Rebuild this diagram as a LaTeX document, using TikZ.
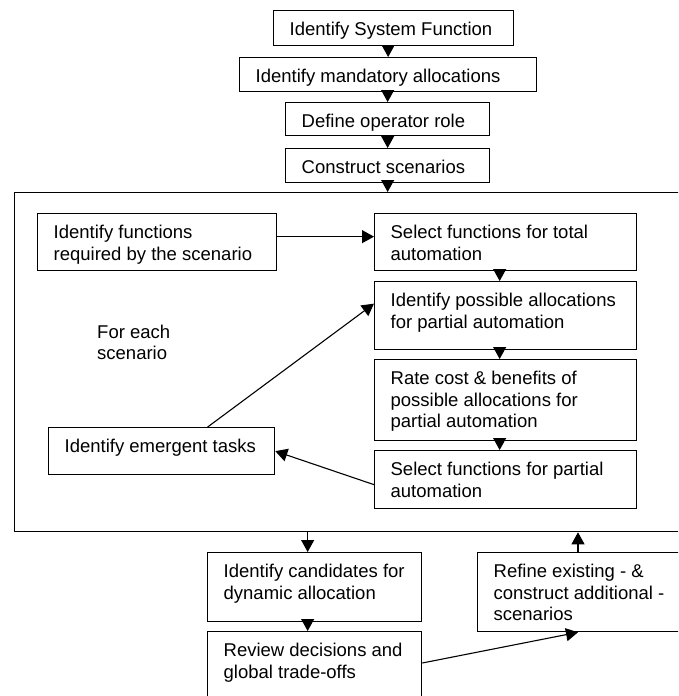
\documentclass[tikz,border=0pt]{standalone}
\usepackage{fontspec}
\setmainfont{Liberation Sans}
\usetikzlibrary{arrows.meta}
\newcommand\diagfont{\fontsize{18.5}{21.5}\selectfont}
% fixed-width, left-aligned block of lines whose baseline is the first line
\newcommand\btxt[2]{\makebox[#1][l]{\begin{tabular}[t]{@{}l@{}}#2\end{tabular}}}
\begin{document}
\begin{tikzpicture}[x=1pt,y=-1pt,
  box/.style={draw, line width=1.3pt, anchor=north west, inner xsep=16pt,
    inner ysep=0pt, text height=25pt, font=\diagfont},
  frame/.style={draw, line width=1.3pt, anchor=north west, inner sep=0pt},
  arr/.style={-{Triangle[length=12pt,width=13pt]}, line width=1.1pt},
  label/.style={anchor=base west, inner sep=0pt, font=\diagfont}]
\useasboundingbox (0,0) rectangle (678,696);
\clip (0,0) rectangle (678,696);

% top chain
\node[box, text depth=10pt] (sysfn) at (273,10) {\btxt{208pt}{Identify System Function}};
\node[box, text depth=9pt] (mand) at (239,57) {\btxt{265pt}{Identify mandatory allocations}};
\node[box, text depth=8pt] (oper) at (285,102) {\btxt{172pt}{Define operator role}};
\node[box, text depth=9pt] (scen) at (285,148) {\btxt{172pt}{Construct scenarios}};

% per-scenario frame
\node[frame, minimum width=690pt, minimum height=339pt] (frame) at (14,192) {};
\node[label] (each) at (97,338) {\begin{tabular}[t]{@{}l@{}}For each\\scenario\end{tabular}};

\node[box, text depth=32pt] (func) at (37,213) {\btxt{207pt}{Identify functions\\required by the scenario}};
\node[box, text depth=32pt] (total) at (374,213) {\btxt{230pt}{Select functions for total\\automation}};
\node[box, text depth=43pt] (poss) at (374,281) {\btxt{230pt}{Identify possible allocations\\for partial automation}};
\node[box, text depth=56pt] (rate) at (374,359) {\btxt{230pt}{Rate cost \& benefits of\\possible allocations for\\partial automation}};
\node[box, text depth=33pt] (selpart) at (374,450) {\btxt{230pt}{Select functions for partial\\automation}};
\node[box, text depth=22pt] (emerg) at (48,427) {\btxt{194pt}{Identify emergent tasks}};

% below the frame
\node[box, text depth=44pt] (cand) at (207,552) {\btxt{182pt}{Identify candidates for\\dynamic allocation}};
\node[box, text depth=55pt] (review) at (207,631) {\btxt{182pt}{Review decisions and\\global trade-offs}};
\node[box, text depth=54pt] (refine) at (477,552) {\btxt{191pt}{Refine existing - \&\\construct additional -\\scenarios}};

% connectors of the top chain
\draw[arr] (mand.north |- sysfn.south) -- (mand.north);
\draw[arr] (oper.north |- mand.south) -- (oper.north);
\draw[arr] (scen.north |- oper.south) -- (scen.north);
\draw[arr] (scen.south) -- (scen.south |- frame.north);

% connectors inside the frame
\draw[arr] ([yshift=5.5pt]func.east) -- ([yshift=5.5pt]total.west);
\coordinate (c1) at ([xshift=-6pt]total.south);
\draw[arr] (c1) -- (c1 |- poss.north);
\coordinate (c2) at ([xshift=-6pt]poss.south);
\draw[arr] (c2) -- (c2 |- rate.north);
\coordinate (c3) at ([xshift=-6pt]rate.south);
\draw[arr] (c3) -- (c3 |- selpart.north);
\draw[arr] ([xshift=46pt]emerg.north) -- ([yshift=12pt]poss.west);
\draw[arr] ([yshift=-5pt]selpart.west) -- (emerg.east);

% connectors below the frame
\coordinate (c4) at ([xshift=-7pt]cand.north);
\draw[arr] (c4 |- frame.south) -- (c4);
\coordinate (c5) at ([xshift=-7pt]cand.south);
\draw[arr] (c5) -- (c5 |- review.north);
\coordinate (c6) at ([xshift=101pt]refine.north west);
\draw[arr] (c6) -- (c6 |- frame.south);
\draw[arr] ([yshift=-32pt]review.north east) -- ([xshift=101pt]refine.south west);
\end{tikzpicture}
\end{document}
